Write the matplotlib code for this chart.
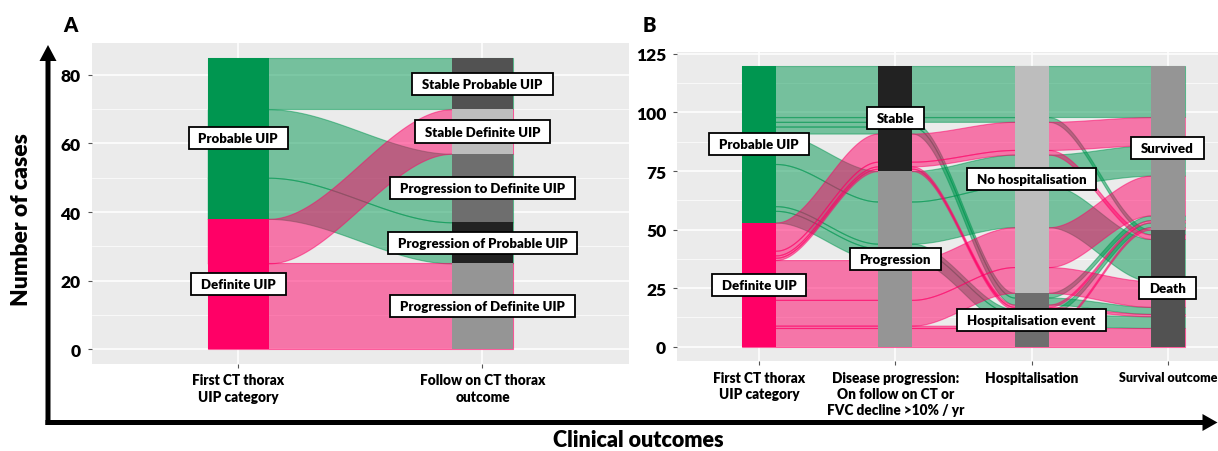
import numpy as np
import matplotlib
matplotlib.use('Agg')
import matplotlib.pyplot as plt
from matplotlib.path import Path
from matplotlib.patches import FancyArrow
from matplotlib.ticker import MultipleLocator

plt.rcParams['font.family'] = ['Lato', 'DejaVu Sans']
BOLD = 'heavy'

# ---------------- data: panel A ----------------
a_axis_labels = ['First CT thorax\nUIP category', 'Follow on CT thorax\noutcome']
a_levels = [
    ['Definite UIP', 'Probable UIP'],
    ['Progression of Definite UIP', 'Progression of Probable UIP',
     'Progression to Definite UIP', 'Stable Definite UIP', 'Stable Probable UIP'],
]
a_first = ['Definite UIP', 'Definite UIP', 'Probable UIP', 'Probable UIP', 'Probable UIP']
a_follow = ['Progression of Definite UIP', 'Stable Definite UIP', 'Progression of Probable UIP',
            'Progression to Definite UIP', 'Stable Probable UIP']
a_counts = [25, 13, 12, 20, 15]

# ---------------- data: panel B ----------------
b_axis_labels = ['First CT thorax\nUIP category',
                 'Disease progression:\nOn follow on CT or\nFVC decline >10% / yr',
                 'Hospitalisation', 'Survival outcome']
b_levels = [
    ['Definite UIP', 'Probable UIP'],
    ['Progression', 'Stable'],
    ['Hospitalisation event', 'No hospitalisation'],
    ['Death', 'Survived'],
]
b_uip = ['Probable UIP'] * 8 + ['Definite UIP'] * 8
b_prog = (['Stable'] * 4 + ['Progression'] * 4) * 2
b_hosp = (['No hospitalisation'] * 2 + ['Hospitalisation event'] * 2) * 4
b_surv = ['Survived', 'Death'] * 8
b_counts = [22, 2, 2, 3, 13, 18, 2, 5,
            12, 2, 1, 1, 17, 11, 1, 8]

# ---------------- styles ----------------
fill_cols = {'Probable UIP': '#009650', 'Definite UIP': '#FF0066'}
stratum_cols = {
    'Probable UIP': '#009650', 'Definite UIP': '#FF0066',
    'Progression of Definite UIP': '#959595', 'Progression of Probable UIP': '#222222',
    'Progression to Definite UIP': '#6E6E6E', 'Stable Definite UIP': '#BDBDBD',
    'Stable Probable UIP': '#525252',
    'Progression': '#959595', 'Stable': '#222222',
    'Hospitalisation event': '#6E6E6E', 'No hospitalisation': '#BDBDBD',
    'Death': '#525252', 'Survived': '#959595',
}
W = 0.25


def label_box(x0, y0, width, height, mutation_size):
    px, py = 0.75 * mutation_size, 0.38 * mutation_size
    x0, y0 = x0 - px, y0 - py
    x1, y1 = x0 + width + 2 * px, y0 + height + 2 * py
    return Path([(x0, y0), (x1, y0), (x1, y1), (x0, y1), (x0, y0)], closed=True)


def alluvial(ax, columns, levels, counts, axis_labels):
    n_ax, n = len(columns), len(counts)
    # lode order at each axis: this axis, then backwards, then forwards
    pos = np.zeros((n_ax, n))
    for k in range(n_ax):
        order = list(range(k, -1, -1)) + list(range(k + 1, n_ax))
        keys = [tuple(levels[j].index(columns[j][i]) for j in order) for i in range(n)]
        y = 0.0
        for i in sorted(range(n), key=lambda i: keys[i]):
            pos[k, i] = y
            y += counts[i]

    t = np.linspace(0, 1, 60)
    s = 3 * t ** 2 - 2 * t ** 3
    draw_order = sorted(range(n), key=lambda i: -levels[0].index(columns[0][i]))
    for i in draw_order:
        xs, lo = [], []
        for k in range(n_ax):
            xs += [k + 1 - W / 2, k + 1 + W / 2]
            lo += [pos[k, i]] * 2
            if k < n_ax - 1:
                x0, x1 = k + 1 + W / 2, k + 2 - W / 2
                xs += list(x0 + (x1 - x0) * t[1:-1])
                lo += list(pos[k, i] + (pos[k + 1, i] - pos[k, i]) * s[1:-1])
        xs, lo = np.array(xs), np.array(lo)
        c = fill_cols[columns[0][i]]
        ax.fill_between(xs, lo, lo + counts[i], facecolor=c, edgecolor=c,
                        alpha=0.5, linewidth=0.8, zorder=2)

    for k in range(n_ax):
        bottom = 0.0
        for lev in levels[k]:
            tot = sum(c for c, v in zip(counts, columns[k]) if v == lev)
            if tot == 0:
                continue
            ax.bar(k + 1, tot, bottom=bottom, width=W, color=stratum_cols[lev],
                   linewidth=0, zorder=3)
            ax.text(k + 1, bottom + tot / 2, lev, ha='center', va='center',
                    fontsize=9.5, fontweight=BOLD, zorder=5,
                    bbox=dict(boxstyle=label_box, facecolor='white',
                              edgecolor='black', linewidth=1.3))
            bottom += tot

    total = sum(counts)
    ax.set_xlim(0.4, n_ax + 0.6)
    ax.set_ylim(-0.05 * total, 1.05 * total)
    ax.set_xticks(range(1, n_ax + 1))
    ax.set_xticklabels(axis_labels, fontsize=9.8, fontweight=BOLD, linespacing=1.3)
    ax.set_facecolor('#EBEBEB')
    ax.set_axisbelow(True)
    for sp in ax.spines.values():
        sp.set_visible(False)
    ax.grid(True, which='major', color='white', linewidth=1.1)
    ax.grid(True, which='minor', axis='y', color='white', linewidth=0.5)
    ax.tick_params(axis='both', which='major', length=3, width=0.8, color='#555555', pad=4)
    ax.tick_params(axis='y', labelsize=12.5, pad=5)
    ax.tick_params(axis='y', which='minor', length=0)


fig = plt.figure(figsize=(12.18, 4.52), dpi=100)

axA = fig.add_axes([0.0753, 0.1934, 0.4411, 0.7086])
alluvial(axA, [a_first, a_follow], a_levels, a_counts, a_axis_labels)
axA.yaxis.set_major_locator(MultipleLocator(20))
axA.yaxis.set_minor_locator(MultipleLocator(10))

axB = fig.add_axes([0.5561, 0.1996, 0.4698, 0.6841])
alluvial(axB, [b_uip, b_prog, b_hosp, b_surv], b_levels, b_counts, b_axis_labels)
axB.yaxis.set_major_locator(MultipleLocator(25))
axB.yaxis.set_minor_locator(MultipleLocator(12.5))
axB.set_ylim(-6, 126)
# last category sits at the figure edge; keep it inside
axB.get_xticklabels()[-1].set_fontsize(9.0)
for a in (axA, axB):
    for lab in a.get_yticklabels():
        lab.set_fontweight(BOLD)

# overlay for the big axis arrows and titles (pixel coordinates)
ov = fig.add_axes([0, 0, 1, 1], zorder=-1)
ov.set_xlim(0, 1218)
ov.set_ylim(452, 0)
ov.axis('off')
ov.add_patch(FancyArrow(48, 426, 0, -380, width=5, head_width=17, head_length=16,
                        length_includes_head=True, color='black', linewidth=0))
ov.add_patch(FancyArrow(45.5, 423.5, 1172, 0, width=5, head_width=17, head_length=15,
                        length_includes_head=True, color='black', linewidth=0))
ov.text(22, 220, 'Number of cases', rotation=90, ha='center', va='center',
        fontsize=16.5, fontweight=BOLD)
ov.text(638, 441, 'Clinical outcomes', ha='center', va='center',
        fontsize=15.5, fontweight=BOLD)
ov.text(70, 25, 'A', ha='center', va='center', fontsize=14.5, fontweight=BOLD)
ov.text(649, 25, 'B', ha='center', va='center', fontsize=14.5, fontweight=BOLD)

fig.savefig('out.png', dpi=100)
